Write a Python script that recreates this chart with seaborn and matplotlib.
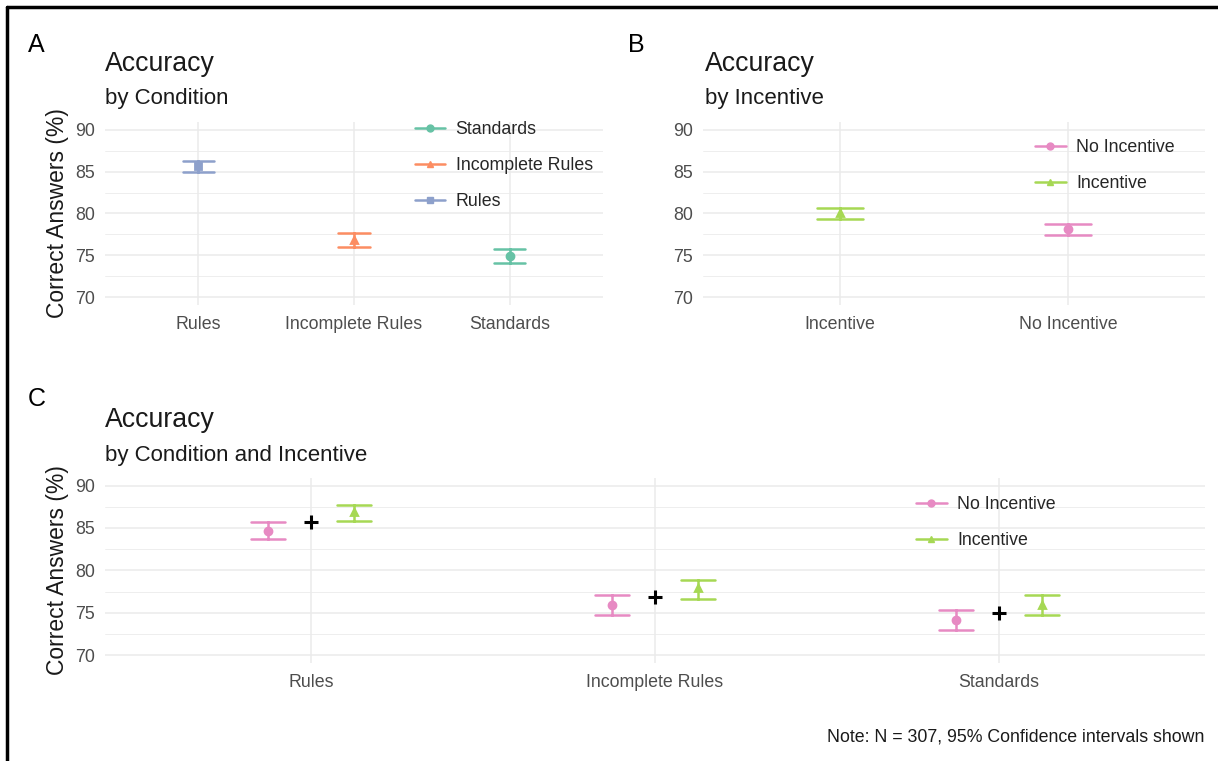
import pandas as pd
import seaborn as sns
import matplotlib.pyplot as plt
from matplotlib.lines import Line2D

# Panel A: accuracy by condition (mean and 95% CI)
conditions = ["Rules", "Incomplete Rules", "Standards"]
cond_legend_order = ["Standards", "Incomplete Rules", "Rules"]
cond_mean = [85.65, 76.9, 74.95]
cond_lo = [84.95, 76.0, 74.1]
cond_hi = [86.3, 77.65, 75.8]

# Panel B: accuracy by incentive
incentives = ["Incentive", "No Incentive"]
inc_legend_order = ["No Incentive", "Incentive"]
inc_mean = [80.05, 78.1]
inc_lo = [79.4, 77.45]
inc_hi = [80.7, 78.8]

# Panel C: accuracy by condition and incentive (order follows `conditions`)
noinc_mean = [84.65, 75.95, 74.1]
noinc_lo = [83.65, 74.7, 72.9]
noinc_hi = [85.65, 77.1, 75.35]
incc_mean = [86.9, 77.95, 75.95]
incc_lo = [85.85, 76.65, 74.7]
incc_hi = [87.7, 78.9, 77.1]
overall_mean = [85.7, 76.8, 74.95]

cond_colors = {"Standards": "#66C2A5", "Incomplete Rules": "#FC8D62", "Rules": "#8DA0CB"}
cond_markers = {"Standards": "o", "Incomplete Rules": "^", "Rules": "s"}
inc_colors = {"No Incentive": "#E78AC3", "Incentive": "#A6D854"}
inc_markers = {"No Incentive": "o", "Incentive": "^"}


def long_frame(groups, lo, mean, hi, extra=None):
    # three rows per group: lower bound, mean, upper bound
    rows = []
    for i, g in enumerate(groups):
        for v in (lo[i], mean[i], hi[i]):
            row = {"group": g, "acc": v}
            if extra is not None:
                row.update(extra)
            rows.append(row)
    return pd.DataFrame(rows)


df_a = long_frame(conditions, cond_lo, cond_mean, cond_hi)
df_b = long_frame(incentives, inc_lo, inc_mean, inc_hi)
df_c = pd.concat([
    long_frame(conditions, noinc_lo, noinc_mean, noinc_hi, {"incentive": "No Incentive"}),
    long_frame(conditions, incc_lo, incc_mean, incc_hi, {"incentive": "Incentive"}),
])
df_overall = pd.DataFrame({"group": conditions, "acc": overall_mean})

sns.set_theme(style="whitegrid")
plt.rcParams['font.family'] = ['Liberation Sans', 'DejaVu Sans']

TEXT = "#1A1A1A"
TICK = "#4D4D4D"


def style_axes(ax, n):
    ax.set_xlim(-0.6, n - 0.4)
    ax.set_ylim(69.1, 90.9)
    ax.set_yticks([70, 75, 80, 85, 90])
    ax.set_yticks([72.5, 77.5, 82.5, 87.5], minor=True)
    ax.set_facecolor("white")
    ax.grid(which="major", color="#EBEBEB", linewidth=1.1)
    ax.grid(which="minor", axis="y", color="#EBEBEB", linewidth=0.6)
    ax.set_axisbelow(True)
    sns.despine(ax=ax, left=True, bottom=True)
    ax.tick_params(axis="both", which="both", length=0, labelsize=12.8, labelcolor=TICK)
    ax.tick_params(axis="x", pad=8)
    ax.tick_params(axis="y", pad=7)
    ax.set_xlabel("")
    ax.set_ylabel("")


def make_legend(ax, labels, colors, markers, x, y):
    handles = [Line2D([], [], color=colors[l], marker=markers[l], linestyle="-",
                      linewidth=1.8, markersize=5) for l in labels]
    ax.legend(handles, labels, loc="upper left", bbox_to_anchor=(x, y),
              bbox_transform=ax.figure.transFigure, frameon=False,
              fontsize=12.8, handlelength=1.7, handletextpad=0.6,
              labelspacing=1.08, borderpad=0, borderaxespad=0)


fig = plt.figure(figsize=(12.18, 7.61), dpi=100)
ax_a = fig.add_axes([0.0862, 0.5992, 0.4089, 0.2405])
ax_b = fig.add_axes([0.5772, 0.5992, 0.4122, 0.2405])
ax_c = fig.add_axes([0.0862, 0.1292, 0.9031, 0.2427])

err_kws = {"linewidth": 1.8}

# A
sns.pointplot(data=df_a, x="group", y="acc", hue="group", order=conditions,
              hue_order=cond_legend_order, palette=cond_colors,
              markers=[cond_markers[c] for c in cond_legend_order],
              estimator="median", errorbar=("pi", 100), capsize=0.2,
              linestyle="none", dodge=False, err_kws=err_kws, markersize=5,
              legend=False, ax=ax_a)
style_axes(ax_a, 3)
make_legend(ax_a, cond_legend_order, cond_colors, cond_markers, 0.3405, 0.841)

# B
sns.pointplot(data=df_b, x="group", y="acc", hue="group", order=incentives,
              hue_order=inc_legend_order, palette=inc_colors,
              markers=[inc_markers[c] for c in inc_legend_order],
              estimator="median", errorbar=("pi", 100), capsize=0.2,
              linestyle="none", dodge=False, err_kws=err_kws, markersize=5,
              legend=False, ax=ax_b)
style_axes(ax_b, 2)
make_legend(ax_b, inc_legend_order, inc_colors, inc_markers, 0.850, 0.817)

# C
sns.pointplot(data=df_c, x="group", y="acc", hue="incentive", order=conditions,
              hue_order=inc_legend_order, palette=inc_colors,
              markers=[inc_markers[c] for c in inc_legend_order],
              estimator="median", errorbar=("pi", 100), capsize=0.1,
              linestyle="none", dodge=0.25, err_kws=err_kws, markersize=5,
              legend=False, ax=ax_c)
sns.pointplot(data=df_overall, x="group", y="acc", order=conditions, color="black",
              markers="+", linestyle="none", errorbar=None, markersize=10,
              markeredgewidth=2.2, legend=False, ax=ax_c)
style_axes(ax_c, 3)
make_legend(ax_c, inc_legend_order, inc_colors, inc_markers, 0.7523, 0.348)

# y labels
ax_a.set_ylabel("Correct Answers (%)", fontsize=16.5, color=TEXT)
ax_a.yaxis.set_label_coords(-0.072, 0.5)
ax_c.set_ylabel("Correct Answers (%)", fontsize=16.5, color=TEXT)
ax_c.yaxis.set_label_coords(-0.033, 0.5)

# panel letters, titles and subtitles
for letter, lx, tx, ly, ty, sy, sub in [
    ("A", 0.023, 0.0862, 0.9410, 0.9160, 0.8700, "by Condition"),
    ("B", 0.5156, 0.5788, 0.9410, 0.9160, 0.8700, "by Incentive"),
    ("C", 0.023, 0.0862, 0.4758, 0.4482, 0.4009, "by Condition and Incentive"),
]:
    fig.text(lx, ly, letter, fontsize=18, color="black", va="center", ha="left")
    fig.text(tx, ty, "Accuracy", fontsize=19.2, color=TEXT, va="center", ha="left")
    fig.text(tx, sy, sub, fontsize=16, color=TEXT, va="center", ha="left")

fig.text(0.989, 0.032, "Note: N = 307, 95% Confidence intervals shown",
         fontsize=12.8, color=TEXT, ha="right", va="center")

# frame lines at top and left edge
fig.add_artist(Line2D([0.0057, 1.0], [0.9908, 0.9908], transform=fig.transFigure,
                      color="black", linewidth=2.5))
fig.add_artist(Line2D([0.0057, 0.0057], [0.0, 0.9908], transform=fig.transFigure,
                      color="black", linewidth=2.5))

fig.savefig("out.png", dpi=100, facecolor="white")
